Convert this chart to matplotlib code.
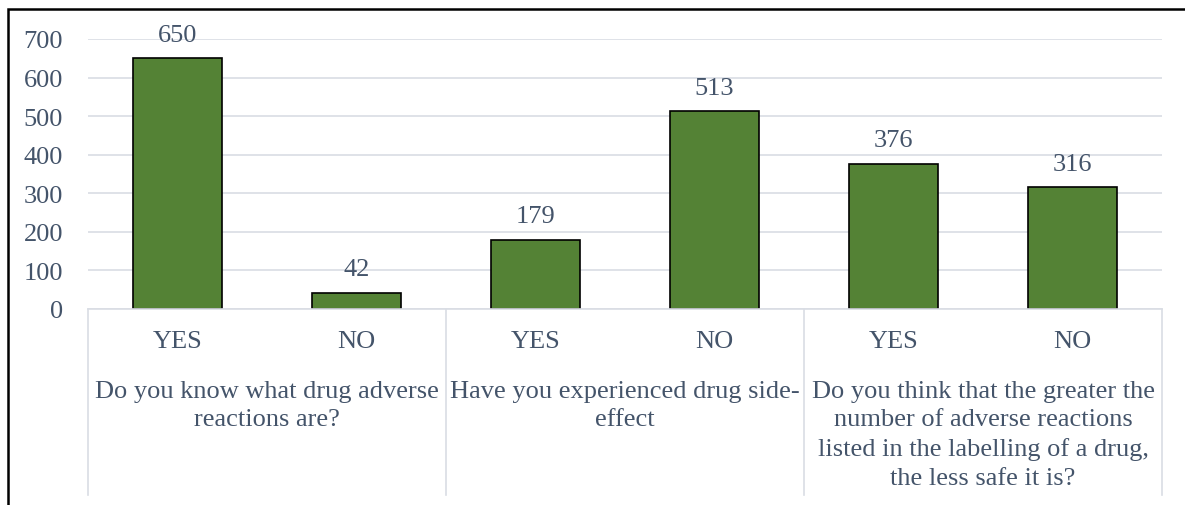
import matplotlib.pyplot as plt
from matplotlib.patches import Rectangle
from matplotlib.lines import Line2D

# data
answers = ["YES", "NO", "YES", "NO", "YES", "NO"]
counts = [650, 42, 179, 513, 376, 316]
questions = [
    "Do you know what drug adverse\nreactions are?",
    "Have you experienced drug side-\neffect",
    "Do you think that the greater the\nnumber of adverse reactions\nlisted in the labelling of a drug,\nthe less safe it is?",
]
yticks = [0, 100, 200, 300, 400, 500, 600, 700]

txt_col = "#44546a"
grid_col = "#d9dde4"
bar_col = "#548235"
W, H = 1185, 506
fs = 19

plt.rcParams["font.family"] = ["Liberation Serif", "DejaVu Serif"]

fig = plt.figure(figsize=(W / 100, H / 100), dpi=100)
ax = fig.add_axes([88 / W, 1 - 310 / H, (1162 - 88) / W, 270 / H])

x = list(range(len(counts)))
ax.bar(x, counts, width=0.5, color=bar_col, edgecolor="black", linewidth=1.2, zorder=3)
for xi, v in zip(x, counts):
    ax.annotate(str(v), (xi, v), xytext=(0, 9), textcoords="offset points",
                ha="center", va="bottom", fontsize=fs, color=txt_col)

ax.set_xlim(-0.5, len(counts) - 0.5)
ax.set_ylim(0, 700)
ax.set_yticks(yticks)
ax.tick_params(axis="y", length=0, pad=18, labelsize=fs, labelcolor=txt_col)
ax.set_xticks([])
ax.yaxis.grid(True, color=grid_col, linewidth=1.2, zorder=0)
for s in ax.spines.values():
    s.set_visible(False)

# category box under the axis
trans = ax.get_xaxis_transform()
box_bottom = -(496 - 310) / 270
ax.add_line(Line2D([-0.5, 5.5], [0, 0], transform=trans, color=grid_col, lw=1.2, clip_on=False, zorder=4))
for xb in [-0.5, 1.5, 3.5, 5.5]:
    ax.add_line(Line2D([xb, xb], [0, box_bottom], transform=trans, color=grid_col, lw=1.2, clip_on=False))

for xi, a in zip(x, answers):
    ax.text(xi, -(342 - 310) / 270, a, transform=trans, ha="center", va="center",
            fontsize=fs, color=txt_col)
for gi, q in enumerate(questions):
    ax.text(2 * gi + 0.5, -(381 - 310) / 270, q, transform=trans, ha="center", va="top",
            fontsize=fs, color=txt_col, linespacing=1.38)

# outer frame (only top and left visible)
fig.patches.append(Rectangle((8 / W, -0.1), 1.2, 1 - 10 / H + 0.1, transform=fig.transFigure,
                             fill=False, edgecolor="black", linewidth=1.8))

fig.savefig("out.png", dpi=100)
